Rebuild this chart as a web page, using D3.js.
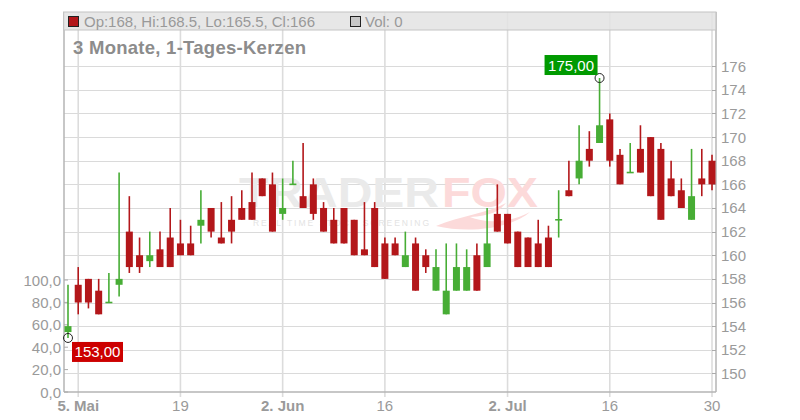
<!DOCTYPE html>
<html><head><meta charset="utf-8">
<script src="https://cdn.jsdelivr.net/npm/d3@7"></script>
<style>
html,body{margin:0;padding:0;background:#fff;}
svg{display:block;font-family:"Liberation Sans",Arial,sans-serif;}
</style></head>
<body><svg id="c" width="800" height="420"></svg>
<script>
const dates = ["2025-05-02","2025-05-05","2025-05-06","2025-05-07","2025-05-08","2025-05-09","2025-05-12","2025-05-13","2025-05-14","2025-05-15","2025-05-16","2025-05-19","2025-05-20","2025-05-21","2025-05-22","2025-05-23","2025-05-26","2025-05-27","2025-05-28","2025-05-29","2025-05-30","2025-06-02","2025-06-03","2025-06-04","2025-06-05","2025-06-06","2025-06-09","2025-06-10","2025-06-11","2025-06-12","2025-06-13","2025-06-16","2025-06-17","2025-06-18","2025-06-19","2025-06-20","2025-06-23","2025-06-24","2025-06-25","2025-06-26","2025-06-27","2025-06-30","2025-07-01","2025-07-02","2025-07-03","2025-07-04","2025-07-07","2025-07-08","2025-07-09","2025-07-10","2025-07-11","2025-07-14","2025-07-15","2025-07-16","2025-07-17","2025-07-18","2025-07-21","2025-07-22","2025-07-23","2025-07-24","2025-07-25","2025-07-28","2025-07-29","2025-07-30"];
const open  = [153.5,157.5,158,157,156,157.5,162,160,159.5,160.5,161.5,161,161,162.5,164,161.5,163,164,164.5,166.5,166,163.5,166,165,166,164,163,164,163,160.5,164,161,161,159,161,160,157,155,157,157,160,159,163.5,163.5,162,161.5,161,161.5,163,165.5,166.5,169,169.5,171.5,168.5,167,169,170,169,166.5,165.5,163,166.5,168];
const high  = [157.5,159,158,158,158.5,167,165,161.5,162,162,164,163,162.5,165.5,164,164.5,165,165.5,167,166.5,167,166.5,168,169.5,166.5,164.5,164,164,163,164.5,164.5,161.5,161.5,162,161.5,160.5,160.5,161,161,160.5,161,164,166,163.5,162,161.5,163,162.5,165.5,168,171,170.5,175,172,169,169.5,171,170,169.5,168,166.5,169,169,168.5];
const low   = [153,155,155.5,155,156,156.5,158.5,158.5,159,159,159,160,160,161,161.5,161,161,163,163,165,162,163,166,164,163,162,161,161,160,160,159,158,160,159,157,158.5,157,155,157,157,157,159,162,161,159,159,159,159,161.5,165,166,167.5,169.5,167.5,166,167,167,165,163,165,164,163,165,165.5];
const close = [154,156,156,155,156,158,159,159,160,159,159,160,160,163,162,161,162,163,163,165,162,164,166,164,163.5,162,161,161,160,160,159,158,160,160,157,159,159,157,159,159,157,161,162,161,159,159,159,159,163,165,168,168,171,168,166,167,167,165,163,165,164,165,166,166];
const volume = dates.map(() => 0);
const priceTicks = [150,152,154,156,158,160,162,164,166,168,170,172,174,176];
const volTicks = [0,20,40,60,80,100];
const xTickDates = ["2025-05-05","2025-05-19","2025-06-02","2025-06-16","2025-07-02","2025-07-16","2025-07-30"];
const xTickLabels = ["5. Mai","19","2. Jun","16","2. Jul","16","30"];
const xTickBold = [true,false,true,false,true,false,false];
const legendText = "Op:168, Hi:168.5, Lo:165.5, Cl:166";
const volText = "Vol: 0";
const title = "3 Monate, 1-Tages-Kerzen";
const lowMark = {date:"2025-05-02", value:153, label:"153,00"};
const highMark = {date:"2025-07-15", value:175, label:"175,00"};

const RED = "#b3171a", GREEN = "#47ad35";
const svg = d3.select("#c");
const L = 64, R = 716, T = 12, B = 392;

const x = d3.scalePoint().domain(dates).range([68, 712]);
const y = d3.scaleLinear().domain([150, 176]).range([373.4, 66.2]);
const yv = d3.scaleLinear().domain([0, 100]).range([B, 280]);
const de = d3.formatLocale({decimal:",", thousands:".", grouping:[3], currency:["","€"]});
const fmtV = de.format(".1f");

const g = svg.append("g");
g.selectAll(".hg").data(priceTicks).join("line")
  .attr("x1", L).attr("x2", R).attr("y1", d => Math.round(y(d)) + 0.5).attr("y2", d => Math.round(y(d)) + 0.5)
  .attr("stroke", "#dadada").attr("stroke-width", 1);
g.selectAll(".vg").data(xTickDates).join("line")
  .attr("x1", d => x(d)).attr("x2", d => x(d)).attr("y1", T).attr("y2", B + 5)
  .attr("stroke", "#dcdcdc").attr("stroke-width", 1.6);

// watermark
const wm = svg.append("g");
wm.append("text").attr("x", 239).attr("y", 207).attr("font-size", 42).attr("font-weight", "bold")
  .attr("fill", "#eaeaea").attr("textLength", 200).attr("lengthAdjust", "spacingAndGlyphs").text("TRADER");
wm.append("text").attr("x", 442).attr("y", 207).attr("font-size", 42).attr("font-weight", "bold")
  .attr("fill", "#fcdada").attr("textLength", 96).attr("lengthAdjust", "spacingAndGlyphs").text("FOX");
wm.append("text").attr("x", 253).attr("y", 226).attr("font-size", 8.5)
  .attr("fill", "#e3e3e3").attr("textLength", 176).text("REAL TIME STOCK SCREENING");
wm.append("path").attr("d", "M436,226 C470,234 512,228 530,212 C512,222 486,224 470,217 C490,216 500,211 506,203 C488,213 460,216 436,226 Z")
  .attr("fill", "#fcdada");

// axes lines
svg.append("line").attr("x1", L).attr("x2", L).attr("y1", T).attr("y2", B).attr("stroke", "#b5b5b5").attr("stroke-width", 1.5);
svg.append("line").attr("x1", R).attr("x2", R).attr("y1", T).attr("y2", B).attr("stroke", "#b5b5b5").attr("stroke-width", 1.5);
svg.append("line").attr("x1", L).attr("x2", R).attr("y1", B).attr("y2", B).attr("stroke", "#b5b5b5").attr("stroke-width", 1.5);

svg.selectAll(".pt").data(priceTicks).join("line")
  .attr("x1", R - 4).attr("x2", R).attr("y1", d => Math.round(y(d)) + 0.5).attr("y2", d => Math.round(y(d)) + 0.5)
  .attr("stroke", "#aaa");
svg.selectAll(".pl").data(priceTicks).join("text")
  .attr("x", R + 5).attr("y", d => y(d) + 5.5).attr("font-size", 15).attr("fill", "#9a9a9a").text(d => d);

svg.selectAll(".vt").data(volTicks).join("line")
  .attr("x1", L).attr("x2", L + 4).attr("y1", d => yv(d)).attr("y2", d => yv(d)).attr("stroke", "#aaa");
svg.selectAll(".vl").data(volTicks).join("text")
  .attr("x", L - 3).attr("y", d => yv(d) + 5.5).attr("text-anchor", "end").attr("font-size", 15).attr("fill", "#9a9a9a")
  .text(d => fmtV(d));

svg.selectAll(".xl").data(xTickDates).join("text")
  .attr("x", d => x(d)).attr("y", B + 19).attr("text-anchor", "middle").attr("font-size", 15)
  .attr("font-weight", (d, i) => xTickBold[i] ? "bold" : "normal").attr("fill", "#9a9a9a")
  .text((d, i) => xTickLabels[i]);

svg.selectAll(".vb").data(dates).join("rect")
  .attr("x", d => x(d) - 3.5).attr("width", 7)
  .attr("y", (d, i) => yv(volume[i])).attr("height", (d, i) => B - yv(volume[i])).attr("fill", "#bbb");

// candles
const cd = dates.map((d, i) => ({date: d, o: open[i], h: high[i], l: low[i], c: close[i]}));
const cg = svg.append("g");
const col = d => d.c >= d.o ? GREEN : RED;
cg.selectAll(".wk").data(cd).join("line")
  .attr("x1", d => x(d.date)).attr("x2", d => x(d.date))
  .attr("y1", d => y(d.h)).attr("y2", d => y(d.l))
  .attr("stroke", col).attr("stroke-width", 1.6);
cg.selectAll(".bd").data(cd).join("rect")
  .attr("x", d => x(d.date) - 3.5).attr("width", 7)
  .attr("y", d => d.o === d.c ? y(d.o) - 0.8 : y(Math.max(d.o, d.c)))
  .attr("height", d => d.o === d.c ? 1.6 : Math.abs(y(d.o) - y(d.c)))
  .attr("fill", col);

function marker(m, fill, bx, by, bw) {
  svg.append("circle").attr("cx", x(m.date)).attr("cy", y(m.value)).attr("r", 4.5)
    .attr("fill", "none").attr("stroke", "#222").attr("stroke-width", 1);
  svg.append("rect").attr("x", bx).attr("y", by).attr("width", bw).attr("height", 20).attr("fill", fill);
  svg.append("text").attr("x", bx + bw / 2).attr("y", by + 15.5).attr("text-anchor", "middle")
    .attr("font-size", 15).attr("fill", "#fff").text(m.label);
}
marker(lowMark, "#cc0000", x(lowMark.date) + 4, y(lowMark.value) + 4, 51);
marker(highMark, "#009a00", x(highMark.date) - 55, y(highMark.value) - 23, 53);

// legend bar
svg.append("rect").attr("x", L - 0.5).attr("y", T).attr("width", R - L + 0.5).attr("height", 18)
  .attr("fill", "#e3e3e3").attr("fill-opacity", 0.85).attr("stroke", "#c4c4c4").attr("stroke-width", 1);
svg.append("rect").attr("x", 68.5).attr("y", 16.5).attr("width", 10).attr("height", 10)
  .attr("fill", RED).attr("stroke", "#222").attr("stroke-width", 1);
svg.append("text").attr("x", 84).attr("y", 26.5).attr("font-size", 15).attr("fill", "#999")
  .attr("textLength", 231).text(legendText);
svg.append("rect").attr("x", 350.5).attr("y", 16.5).attr("width", 10).attr("height", 10)
  .attr("fill", "#c8c8c8").attr("stroke", "#222").attr("stroke-width", 1);
svg.append("text").attr("x", 365).attr("y", 26.5).attr("font-size", 15).attr("fill", "#999").text(volText);

svg.append("text").attr("x", 73).attr("y", 54).attr("font-size", 18.5).attr("font-weight", "bold")
  .attr("fill", "#8c8c8c").attr("textLength", 233).text(title);
</script></body></html>
